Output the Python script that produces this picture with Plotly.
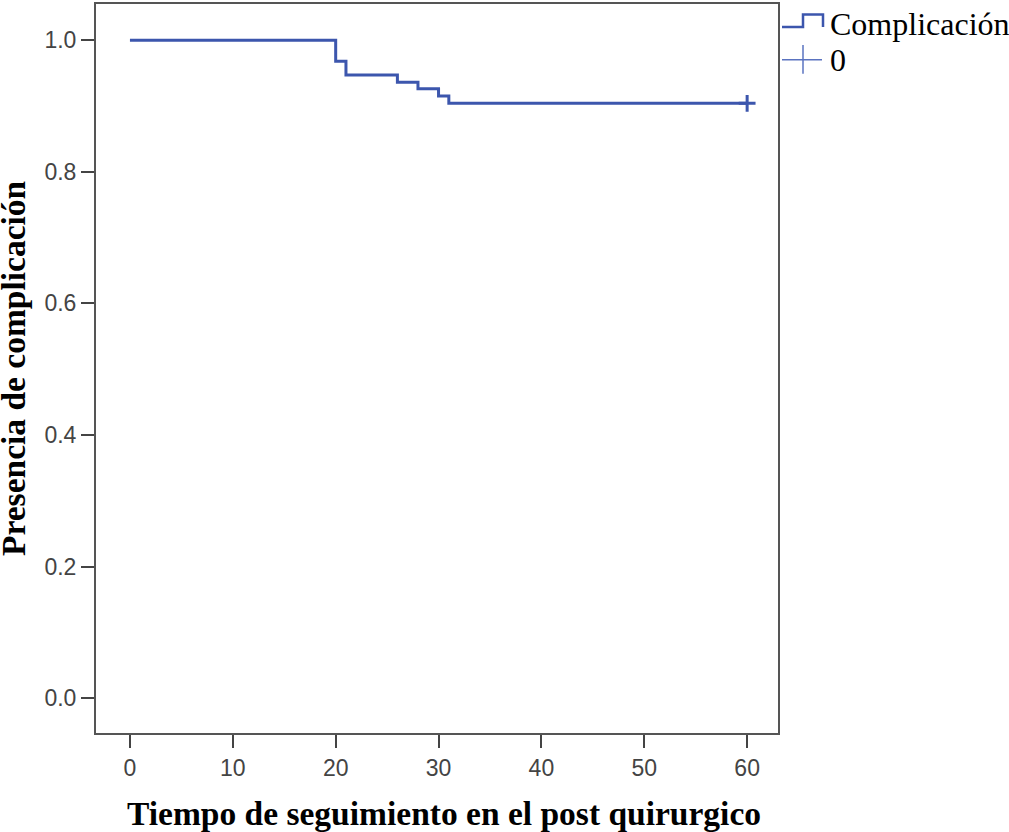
import plotly.graph_objects as go

# Kaplan-Meier estimate: event times and survival after each step
times = [0, 20, 21, 26, 28, 30, 31, 60]
survival = [1.0, 0.968, 0.947, 0.936, 0.926, 0.915, 0.904, 0.904]

# Censored observation
censor_times = [60]
censor_surv = [0.904]

x_ticks = [0, 10, 20, 30, 40, 50, 60]
y_ticks = [0.0, 0.2, 0.4, 0.6, 0.8, 1.0]

legend_labels = ["Complicación", "0"]
x_title = "Tiempo de seguimiento en el post quirurgico"
y_title = "Presencia de complicación"

LINE_COLOR = "#3c56ad"
W, H = 1009, 832
ML, MR, MT, MB = 96, 231, 2, 99
PW, PH = W - ML - MR, H - MT - MB


def px(x):
    return (x - ML) / PW


def py(y):
    return (H - MB - y) / PH


fig = go.Figure()
fig.add_trace(go.Scatter(
    x=times, y=survival, mode="lines", line_shape="hv",
    line=dict(color=LINE_COLOR, width=3), showlegend=False, hoverinfo="skip",
))
fig.add_trace(go.Scatter(
    x=censor_times, y=censor_surv, mode="markers",
    marker=dict(symbol="cross-thin", size=12, line=dict(color=LINE_COLOR, width=3)),
    showlegend=False, hoverinfo="skip",
))

axis_common = dict(
    showgrid=False, zeroline=False, showline=True, mirror=True,
    linecolor="#555555", linewidth=2, ticks="outside", ticklen=13,
    tickwidth=2, tickcolor="#444444",
    tickfont=dict(family="Liberation Sans", size=23, color="#444444"),
)
fig.update_xaxes(range=[-3.3, 63.0], tickvals=x_ticks, **axis_common)
fig.update_yaxes(range=[-0.053, 1.055], tickvals=y_ticks, tickformat=".1f", **axis_common)

serif = "Liberation Serif"
annotations = [
    dict(text=f"<b>{x_title}</b>", x=px(444), y=py(814), xref="paper", yref="paper",
         showarrow=False, font=dict(family=serif, size=33.5, color="black"),
         xanchor="center", yanchor="middle"),
    dict(text=f"<b>{y_title}</b>", x=px(13), y=py(367), xref="paper", yref="paper",
         showarrow=False, textangle=-90, font=dict(family=serif, size=33.5, color="black"),
         xanchor="center", yanchor="middle"),
    dict(text=legend_labels[0], x=px(828), y=py(22), xref="paper", yref="paper",
         showarrow=False, font=dict(family=serif, size=32, color="black"),
         xanchor="left", yanchor="middle"),
    dict(text=legend_labels[1], x=px(828), y=py(58), xref="paper", yref="paper",
         showarrow=False, font=dict(family=serif, size=32, color="black"),
         xanchor="left", yanchor="middle"),
]

# Legend glyphs: a step line and a censor cross
step_path = (f"M {px(782)},{py(25)} L {px(803)},{py(25)} L {px(803)},{py(12.5)} "
             f"L {px(823)},{py(12.5)} L {px(823)},{py(25)}")
shapes = [
    dict(type="path", path=step_path, xref="paper", yref="paper",
         line=dict(color=LINE_COLOR, width=2.5)),
    dict(type="line", x0=px(782), x1=px(822), y0=py(58), y1=py(58),
         xref="paper", yref="paper", line=dict(color="#5a73c0", width=1.5)),
    dict(type="line", x0=px(803), x1=px(803), y0=py(43), y1=py(72),
         xref="paper", yref="paper", line=dict(color="#5a73c0", width=1.5)),
]

fig.update_layout(
    width=W, height=H, margin=dict(l=ML, r=MR, t=MT, b=MB),
    plot_bgcolor="white", paper_bgcolor="white",
    annotations=annotations, shapes=shapes, showlegend=False,
)

fig.write_html("out.html")
